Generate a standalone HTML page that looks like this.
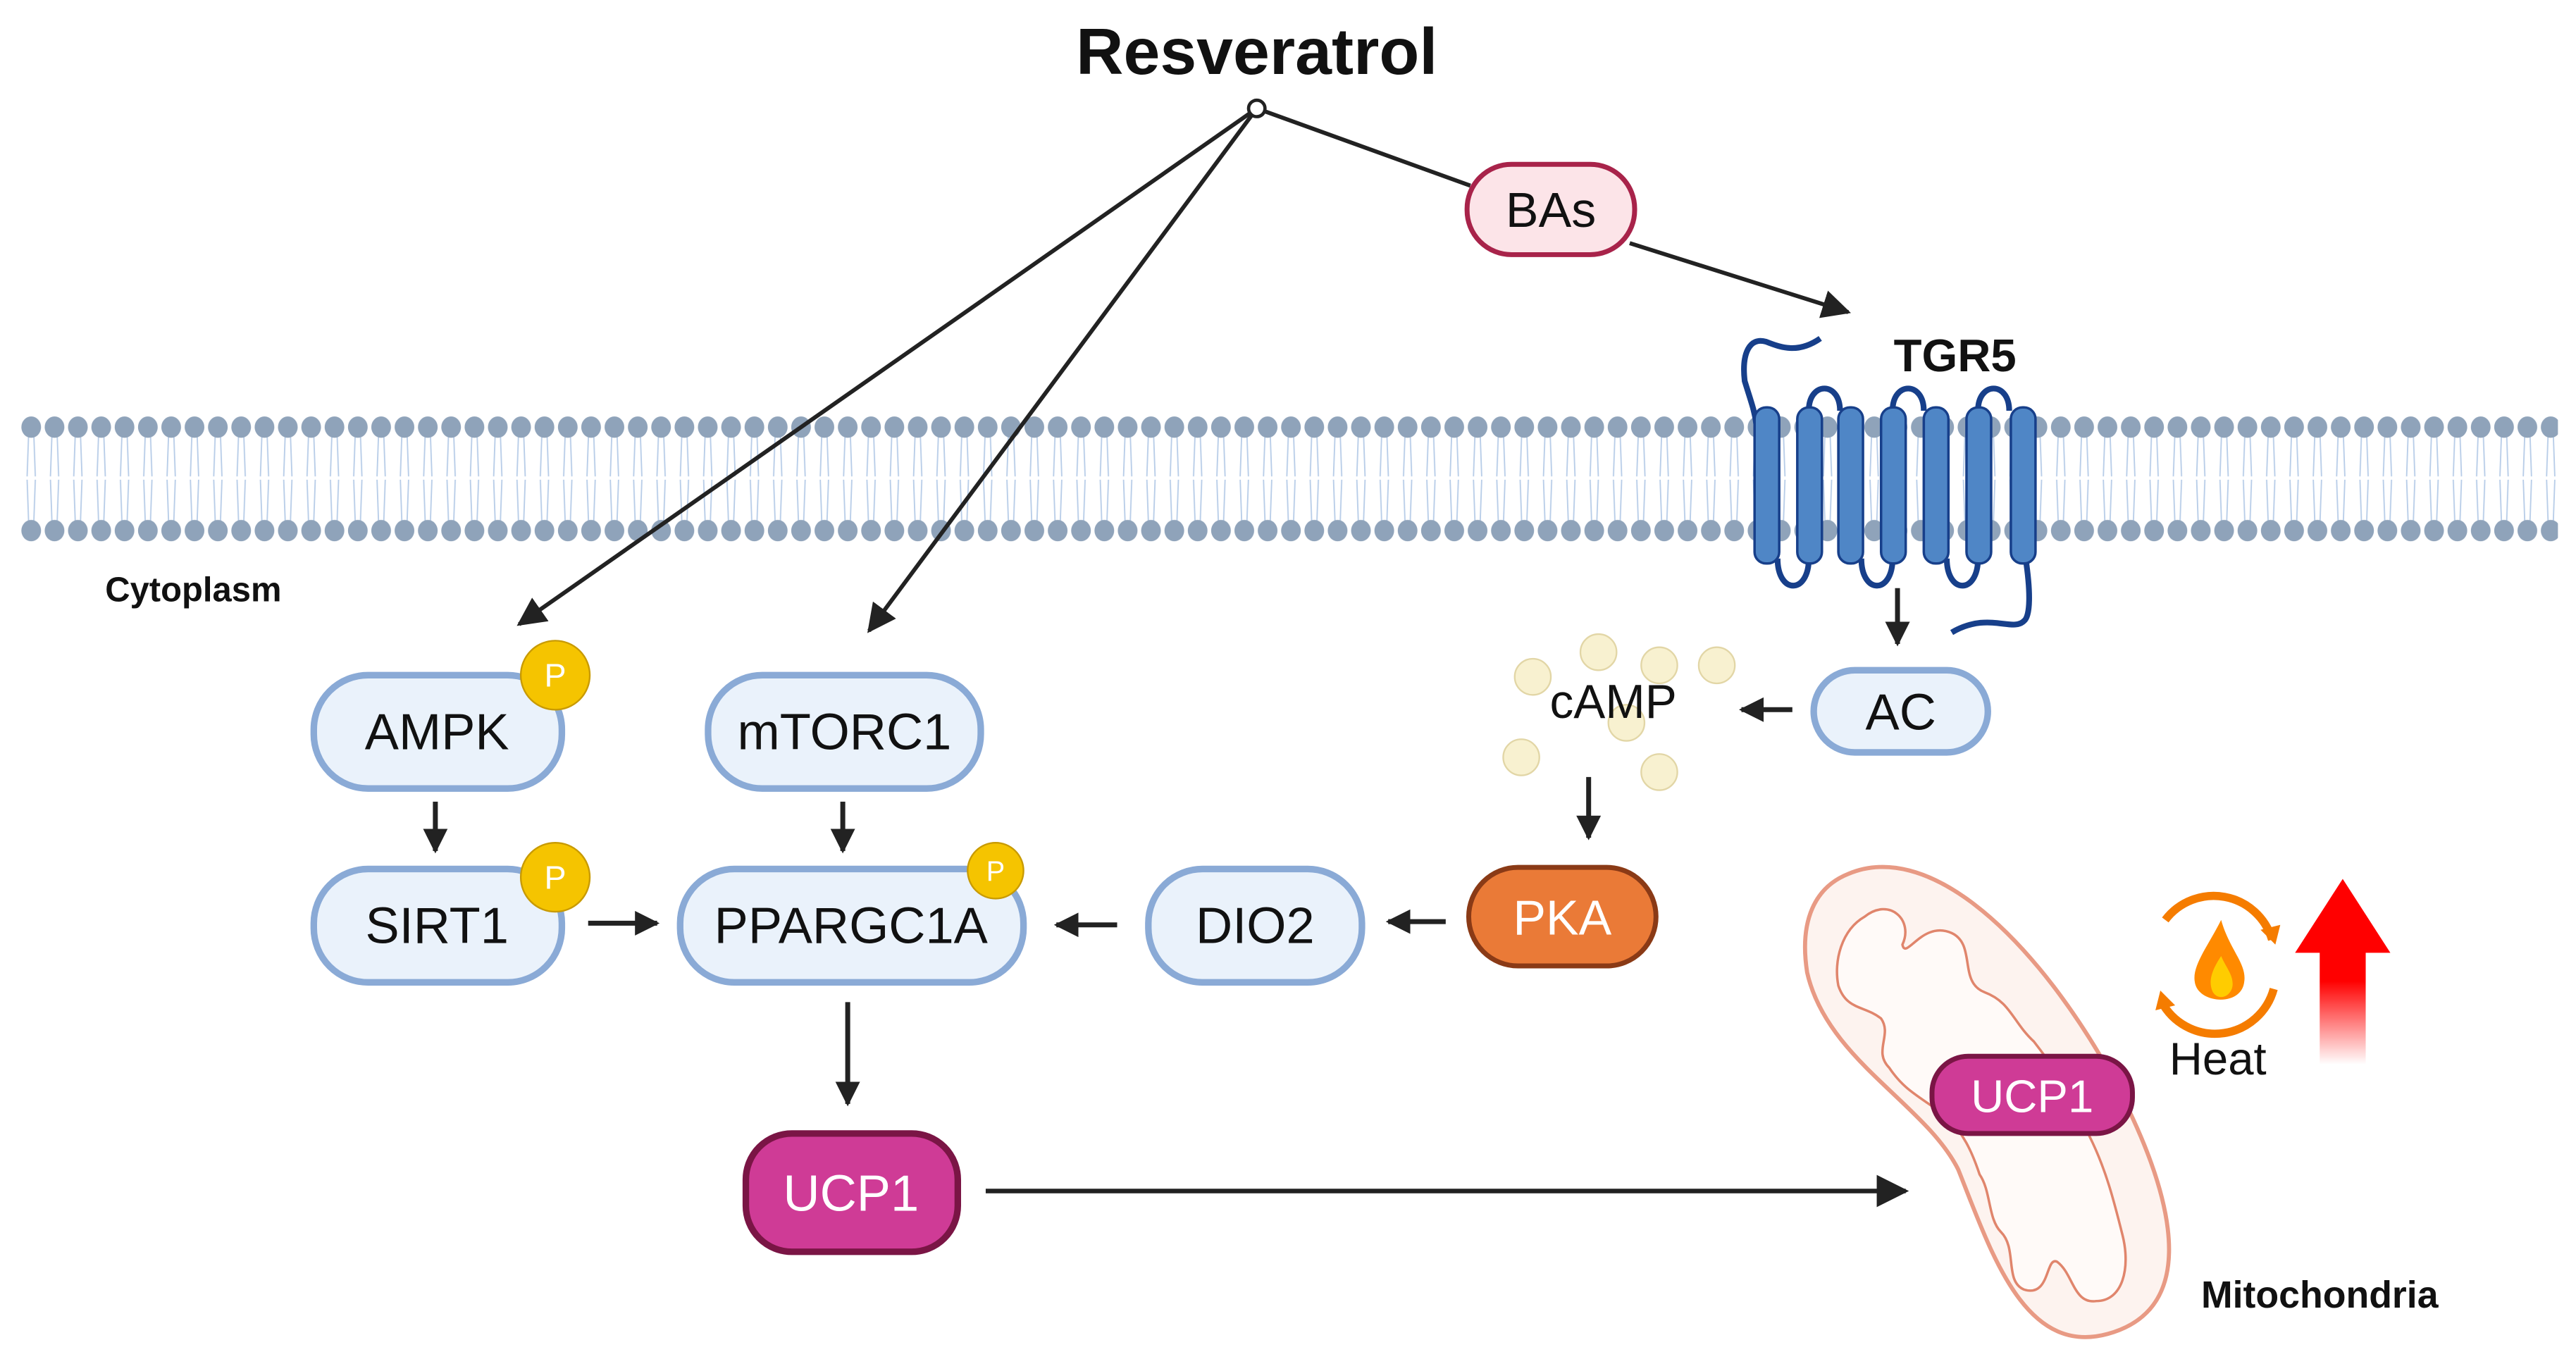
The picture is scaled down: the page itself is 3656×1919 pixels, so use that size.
<!DOCTYPE html>
<html><head><meta charset="utf-8"><style>
html,body{margin:0;padding:0;background:#fff;}
svg{display:block;}
text{font-family:"Liberation Sans",sans-serif;}
</style></head><body>
<svg width="3656" height="1919" viewBox="0 0 1568 823" xmlns="http://www.w3.org/2000/svg">
<defs>
<pattern id="mem" x="12" y="252" width="14.2" height="80" patternUnits="userSpaceOnUse">
<g stroke="#b8cde8" stroke-width="0.8" fill="none">
<path d="M5.5,262 L4.5,290 M8.5,262 L9.5,290" transform="translate(0,-252)"/>
<path d="M4.5,292 L5.5,320 M9.5,292 L8.5,320" transform="translate(0,-252)"/>
</g>
<ellipse cx="7" cy="8" rx="6" ry="6.5" fill="#8fa3ba"/>
<ellipse cx="7" cy="71" rx="6" ry="6.5" fill="#8fa3ba"/>
</pattern>
<marker id="ah" viewBox="0 0 10 10" refX="9" refY="5" markerWidth="5" markerHeight="5" orient="auto-start-reverse" markerUnits="strokeWidth">
<path d="M0,0 L10,5 L0,10 z" fill="#222"/>
</marker>
<marker id="ahL" viewBox="0 0 10 10" refX="9" refY="5" markerWidth="7" markerHeight="7" orient="auto-start-reverse" markerUnits="strokeWidth">
<path d="M0,0 L10,5 L0,10 z" fill="#222"/>
</marker>
<linearGradient id="red" x1="0" y1="0" x2="0" y2="1">
<stop offset="0" stop-color="#ff0000"/><stop offset="0.55" stop-color="#ff0000"/><stop offset="1" stop-color="#ff0000" stop-opacity="0"/>
</linearGradient>
</defs>

<rect x="12" y="252" width="1545" height="80" fill="url(#mem)"/>

<text x="765" y="45" font-size="40" font-weight="bold" text-anchor="middle" fill="#111">Resveratrol</text>

<g stroke="#222" stroke-width="2.5" fill="none">
<line x1="765" y1="66" x2="316" y2="380" marker-end="url(#ahL)"/>
<line x1="765" y1="66" x2="529" y2="384" marker-end="url(#ahL)"/>
<line x1="765" y1="66" x2="895" y2="113"/>
<line x1="992" y1="148" x2="1125" y2="190" marker-end="url(#ahL)"/>
</g>
<circle cx="765" cy="66" r="5" fill="#fff" stroke="#222" stroke-width="2"/>

<rect x="893" y="100" width="102" height="55" rx="27" fill="#fce4e8" stroke="#a8234a" stroke-width="3"/>
<text x="944" y="138" font-size="30" text-anchor="middle" fill="#111">BAs</text>

<text x="1190" y="226" font-size="28" font-weight="bold" text-anchor="middle" fill="#111">TGR5</text>
<g stroke="#173f8a" stroke-width="3.5" fill="none">
<path d="M1108,206 C1095,215 1085,212 1075,208 C1065,205 1060,215 1062,232 C1066,245 1068,250 1069,258"/>
<path d="M1101,250 C1101,232 1120,232 1120,250"/>
<path d="M1152,250 C1152,232 1171,232 1171,250"/>
<path d="M1204,250 C1204,232 1223,232 1223,250"/>
<path d="M1082,340 C1082,362 1101,362 1101,340"/>
<path d="M1133,340 C1133,362 1152,362 1152,340"/>
<path d="M1185,340 C1185,362 1204,362 1204,340"/>
<path d="M1233,340 C1236,360 1236,375 1232,378 C1225,385 1210,372 1188,385"/>
</g>
<g fill="#4f86c6" stroke="#173f8a" stroke-width="1.5">
<rect x="1068" y="248" width="15" height="95" rx="7"/>
<rect x="1094" y="248" width="15" height="95" rx="7"/>
<rect x="1119" y="248" width="15" height="95" rx="7"/>
<rect x="1145" y="248" width="15" height="95" rx="7"/>
<rect x="1171" y="248" width="15" height="95" rx="7"/>
<rect x="1197" y="248" width="15" height="95" rx="7"/>
<rect x="1224" y="248" width="15" height="95" rx="7"/>
</g>

<text x="64" y="366" font-size="21" font-weight="bold" fill="#111">Cytoplasm</text>

<g fill="#eaf2fb" stroke="#8aaad6" stroke-width="4">
<rect x="191" y="411" width="151" height="69" rx="33"/>
<rect x="431" y="411" width="166" height="69" rx="33"/>
<rect x="191" y="529" width="151" height="69" rx="33"/>
<rect x="414" y="529" width="209" height="69" rx="33"/>
<rect x="699" y="529" width="130" height="69" rx="33"/>
<rect x="1104" y="408" width="106" height="50" rx="25"/>
</g>
<g font-size="31" text-anchor="middle" fill="#111">
<text x="266" y="456">AMPK</text>
<text x="514" y="456">mTORC1</text>
<text x="266" y="574">SIRT1</text>
<text x="518" y="574">PPARGC1A</text>
<text x="764" y="574">DIO2</text>
<text x="1157" y="444">AC</text>
</g>

<g fill="#f5c400" stroke="#c89a00" stroke-width="1">
<circle cx="338" cy="411" r="21"/>
<circle cx="338" cy="534" r="21"/>
<circle cx="606" cy="530" r="17"/>
</g>
<g fill="#fff" font-size="20" text-anchor="middle">
<text x="338" y="418">P</text>
<text x="338" y="541">P</text>
<text x="606" y="536" font-size="17">P</text>
</g>

<g fill="#f8f1d0" stroke="#e2d6a6" stroke-width="1">
<circle cx="973" cy="397" r="11"/>
<circle cx="1010" cy="405" r="11"/>
<circle cx="1045" cy="405" r="11"/>
<circle cx="933" cy="412" r="11"/>
<circle cx="990" cy="440" r="11"/>
<circle cx="926" cy="461" r="11"/>
<circle cx="1010" cy="470" r="11"/>
</g>
<text x="982" y="437" font-size="29" text-anchor="middle" fill="#111">cAMP</text>

<rect x="894" y="528" width="114" height="60" rx="30" fill="#ea7a37" stroke="#8a3a16" stroke-width="3"/>
<text x="951" y="569" font-size="30" text-anchor="middle" fill="#fff">PKA</text>

<g stroke="#222" stroke-width="3" fill="none">
<line x1="265" y1="488" x2="265" y2="518" marker-end="url(#ah)"/>
<line x1="513" y1="488" x2="513" y2="518" marker-end="url(#ah)"/>
<line x1="358" y1="562" x2="400" y2="562" marker-end="url(#ah)"/>
<line x1="680" y1="563" x2="643" y2="563" marker-end="url(#ah)"/>
<line x1="880" y1="561" x2="845" y2="561" marker-end="url(#ah)"/>
<line x1="967" y1="473" x2="967" y2="510" marker-end="url(#ah)"/>
<line x1="1091" y1="432" x2="1060" y2="432" marker-end="url(#ah)"/>
<line x1="1155" y1="358" x2="1155" y2="392" marker-end="url(#ah)"/>
<line x1="516" y1="610" x2="516" y2="672" marker-end="url(#ah)"/>
<line x1="600" y1="725" x2="1160" y2="725" stroke-width="2.8" marker-end="url(#ahL)"/>
</g>

<rect x="454" y="690" width="129" height="72" rx="28" fill="#cf3b96" stroke="#7a1545" stroke-width="4"/>
<text x="518" y="737" font-size="31" text-anchor="middle" fill="#fff">UCP1</text>

<path d="M1125,532 C1172,512 1232,565 1278,642 C1320,715 1345,795 1283,812 C1232,826 1212,762 1192,712 C1172,672 1112,645 1100,592 C1095,560 1105,540 1125,532 Z" fill="#fdf3ef" stroke="#e89a84" stroke-width="2.5"/>
<path d="M1135,558 C1150,546 1165,560 1158,575 C1160,585 1170,560 1188,568 C1203,575 1192,598 1208,604 C1224,610 1225,622 1238,634 C1252,652 1264,670 1272,692 C1282,712 1287,732 1292,752 C1297,772 1292,792 1276,792 C1262,794 1262,775 1252,768 C1245,765 1248,790 1232,785 C1220,780 1228,760 1218,750 C1210,742 1212,725 1205,715 C1200,700 1195,690 1185,680 C1170,668 1160,665 1150,650 C1140,640 1152,630 1145,620 C1135,612 1124,615 1119,600 C1116,585 1121,566 1135,558 Z" fill="#fffaf8" stroke="#e0856c" stroke-width="1.5"/>
<rect x="1176" y="643" width="122" height="47" rx="22" fill="#cf3b96" stroke="#7a1545" stroke-width="3"/>
<text x="1237" y="677" font-size="28" text-anchor="middle" fill="#fff">UCP1</text>

<g fill="none" stroke="#f57c00" stroke-width="5">
<path d="M1383,572 A37,37 0 0 0 1318,560"/>
<path d="M1317,612 A37,37 0 0 0 1384,602"/>
</g>
<path d="M1376,566 l12,-3 l-3,12 z M1324,612 l-12,3 l3,-12 z" fill="#f57c00"/>
<path d="M1352,560 C1344,576 1334,588 1336,598 C1338,611 1364,613 1366,598 C1368,587 1357,578 1352,560 Z" fill="#ff8a00"/>
<path d="M1352,582 C1346,591 1344,598 1347,604 C1351,610 1359,606 1359,599 C1359,593 1355,589 1352,582 Z" fill="#ffcc00"/>
<text x="1350" y="654" font-size="28" text-anchor="middle" fill="#111">Heat</text>

<path d="M1397,580 L1426,535 L1455,580 L1440,580 L1440,648 L1412,648 L1412,580 Z" fill="url(#red)"/>

<text x="1412" y="796" font-size="23" font-weight="bold" text-anchor="middle" fill="#111">Mitochondria</text>
</svg>
</body></html>
